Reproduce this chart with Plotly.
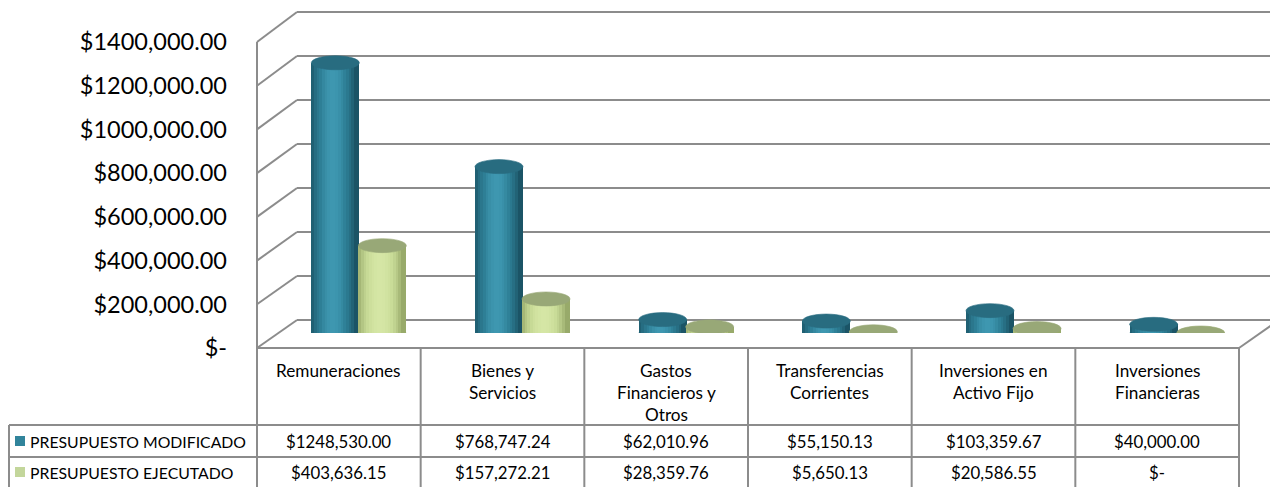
import math
import plotly.graph_objects as go

# ---------------- data ----------------
categories = ["Remuneraciones", "Bienes y Servicios", "Gastos Financieros y Otros",
              "Transferencias Corrientes", "Inversiones en Activo Fijo", "Inversiones Financieras"]
category_lines = [["Remuneraciones"], ["Bienes y", "Servicios"], ["Gastos", "Financieros y", "Otros"],
                  ["Transferencias", "Corrientes"], ["Inversiones en", "Activo Fijo"], ["Inversiones", "Financieras"]]
series_names = ["PRESUPUESTO MODIFICADO", "PRESUPUESTO EJECUTADO"]
presupuesto_modificado = [1248530.00, 768747.24, 62010.96, 55150.13, 103359.67, 40000.00]
presupuesto_ejecutado = [403636.15, 157272.21, 28359.76, 5650.13, 20586.55, 0.0]
tick_values = [0, 200000, 400000, 600000, 800000, 1000000, 1200000, 1400000]

# ---------------- helpers ----------------
PAGE_MARGIN = 8                      # default body margin of the html page
W, H = 1278 - PAGE_MARGIN, 487 - PAGE_MARGIN
YMAX = 1400000


def px(x):
    return (x - PAGE_MARGIN) / W


def py(y):
    return 1 - (y - PAGE_MARGIN) / H


def money(v):
    if v == 0:
        return "$-"
    cents = round(v * 100)
    whole, c = divmod(cents, 100)
    if whole >= 1000:
        return f"${whole // 1000},{whole % 1000:03d}.{c:02d}"
    return f"${whole}.{c:02d}"


def hex2rgb(h):
    h = h.lstrip("#")
    return [int(h[i:i + 2], 16) for i in (0, 2, 4)]


def mix(a, b, t):
    a, b = hex2rgb(a), hex2rgb(b)
    return "rgb(%d,%d,%d)" % tuple(round(a[i] + (b[i] - a[i]) * t) for i in range(3))


# geometry (screen pixels)
X_LEFT, X_RIGHT = 257, 1239          # front floor / table columns
DEPTH_DX = 40                         # back wall offset
FRONT0, FRONT1 = 348, 42              # front edge: value 0 / 1400k
BACK0, BACK1 = 320, 12                # back wall
BAR0, BAR1 = 333, 30                  # cylinders (mid depth)
COLW = (X_RIGHT - X_LEFT) / 6

fd = (py(FRONT0), py(FRONT1))
bd = (py(BACK0), py(BACK1))
bar_dom = (py(BAR0), py(BAR1))


def front_y(v):
    return fd[0] + v / YMAX * (fd[1] - fd[0])


def back_y(v):
    return bd[0] + v / YMAX * (bd[1] - bd[0])


fig = go.Figure()

# dummy trace to host the visible value axis
fig.add_trace(go.Scatter(x=[0], y=[0], mode="markers", marker=dict(opacity=0),
                         hoverinfo="skip", showlegend=False, xaxis="x", yaxis="y"))

# cylinder geometry in category units
grp_shift = 20.5 / COLW
bar_w = 48 / COLW
offsets = [grp_shift - bar_w, grp_shift - 0.006]
palettes = [
    dict(edge="#1b5466", mid="#2f8198", hi="#3e97b0", top="#286c80"),
    dict(edge="#98aa6a", mid="#c9dc98", hi="#d5e6a5", top="#98a877"),
]
N = 18
series_vals = [presupuesto_modificado, presupuesto_ejecutado]
idx = list(range(len(categories)))

for s, vals in enumerate(series_vals):
    pal = palettes[s]
    for k in range(N):
        t = (k + 0.5) / N
        p = math.sin(math.pi * min(1, t / 0.9)) if t < 0.9 else 0.0
        p = max(0.0, p) ** 0.7
        if p < 0.75:
            col = mix(pal["edge"], pal["mid"], p / 0.75)
        else:
            col = mix(pal["mid"], pal["hi"], (p - 0.75) / 0.25)
        fig.add_trace(go.Bar(
            x=idx, y=vals, base=0,
            offset=[offsets[s] + k * bar_w / N] * len(idx),
            width=[bar_w - k * bar_w / N] * len(idx),
            marker=dict(color=col, line=dict(width=0)),
            hoverinfo="skip", showlegend=False, xaxis="x", yaxis="y2"))

shapes = []
grid_line = dict(color="#8c8c8c", width=2)

# back wall gridlines + left wall diagonals
for v in tick_values:
    shapes.append(dict(type="line", xref="paper", yref="paper", layer="below",
                       x0=px(X_LEFT + DEPTH_DX), x1=1.0, y0=back_y(v), y1=back_y(v), line=grid_line))
    shapes.append(dict(type="line", xref="paper", yref="paper", layer="below",
                       x0=px(X_LEFT), x1=px(X_LEFT + DEPTH_DX), y0=front_y(v), y1=back_y(v), line=grid_line))
shapes.append(dict(type="line", xref="paper", yref="paper", layer="below",
                   x0=px(X_LEFT), x1=px(X_LEFT), y0=front_y(0), y1=front_y(YMAX), line=grid_line))
shapes.append(dict(type="line", xref="paper", yref="paper", layer="below",
                   x0=px(X_RIGHT), x1=px(X_RIGHT + DEPTH_DX), y0=front_y(0), y1=back_y(0), line=grid_line))

# cylinder ellipses
half_h = 7 * YMAX / (BAR0 - BAR1)
for s, vals in enumerate(series_vals):
    pal = palettes[s]
    for i, v in enumerate(vals):
        x0 = i + offsets[s]
        x1 = x0 + bar_w
        shapes.append(dict(type="circle", xref="x", yref="y2", layer="below",
                           x0=x0, x1=x1, y0=-half_h, y1=half_h,
                           fillcolor=pal["mid"], line=dict(width=0)))
        shapes.append(dict(type="circle", xref="x", yref="y2", layer="above",
                           x0=x0, x1=x1, y0=v - half_h, y1=v + half_h,
                           fillcolor=pal["top"], line=dict(width=0.6, color=pal["top"])))

# ---------------- data table ----------------
ROW_TOP, ROW1, ROW2, ROW_BOT = 348, 425, 457, 492
LEG_LEFT = 9
tcol = dict(color="#8c8c8c", width=2)
shapes.append(dict(type="line", xref="paper", yref="paper", x0=px(X_LEFT), x1=px(X_RIGHT),
                   y0=py(ROW_TOP), y1=py(ROW_TOP), line=tcol))
for yy in (ROW1, ROW2):
    shapes.append(dict(type="line", xref="paper", yref="paper", x0=px(LEG_LEFT), x1=px(X_RIGHT),
                       y0=py(yy), y1=py(yy), line=tcol))
shapes.append(dict(type="line", xref="paper", yref="paper", x0=px(LEG_LEFT), x1=px(LEG_LEFT),
                   y0=py(ROW1), y1=py(ROW_BOT), line=tcol))
for k in range(7):
    xx = X_LEFT + k * COLW
    shapes.append(dict(type="line", xref="paper", yref="paper", x0=px(xx), x1=px(xx),
                       y0=py(ROW_TOP), y1=py(ROW_BOT), line=tcol))

legend_colors = ["#31849b", "#c3d69b"]
annotations = []
FONT = "Lato, Carlito, sans-serif"
font_cat = dict(family=FONT, size=17.2, color="#000000")
font_val = dict(family=FONT, size=16.8, color="#000000")
font_leg = dict(family=FONT, size=15.8, color="#000000")
for i, lines in enumerate(category_lines):
    for j, ln in enumerate(lines):
        annotations.append(dict(x=i, xref="x", y=py(370 + 22 * j), yref="paper", text=ln,
                                showarrow=False, font=font_cat, xanchor="center", yanchor="middle"))
row_centers = [441, 472]
for s, vals in enumerate(series_vals):
    yc = row_centers[s]
    for i, v in enumerate(vals):
        annotations.append(dict(x=i, xref="x", y=py(yc), yref="paper", text=money(v),
                                showarrow=False, font=font_val, xanchor="center", yanchor="middle"))
    shapes.append(dict(type="rect", xref="paper", yref="paper", x0=px(15), x1=px(25),
                       y0=py(yc - 5), y1=py(yc + 5), fillcolor=legend_colors[s], line=dict(width=0)))
    annotations.append(dict(x=px(28), xref="paper", y=py(yc), yref="paper", text=series_names[s],
                            showarrow=False, font=font_leg, xanchor="left", yanchor="middle"))

fig.update_layout(
    width=W, height=H,
    margin=dict(l=0, r=0, t=0, b=0, pad=0, autoexpand=False),
    paper_bgcolor="white", plot_bgcolor="rgba(0,0,0,0)",
    barmode="overlay", bargap=0,
    showlegend=False,
    xaxis=dict(domain=[px(X_LEFT), px(X_RIGHT)], range=[-0.5, 5.5], visible=False,
               fixedrange=True, automargin=False),
    yaxis=dict(domain=list(fd), range=[0, YMAX], anchor="x", tickvals=tick_values,
               ticktext=[money(v) for v in tick_values], showgrid=False, zeroline=False,
               showline=False, ticks="", ticklabelstandoff=29, automargin=False,
               tickfont=dict(family=FONT, size=23.5, color="#000000")),
    yaxis2=dict(domain=list(bar_dom), range=[0, YMAX], anchor="x", visible=False, automargin=False),
    shapes=shapes,
    annotations=annotations,
)

fig.write_html("out.html")
